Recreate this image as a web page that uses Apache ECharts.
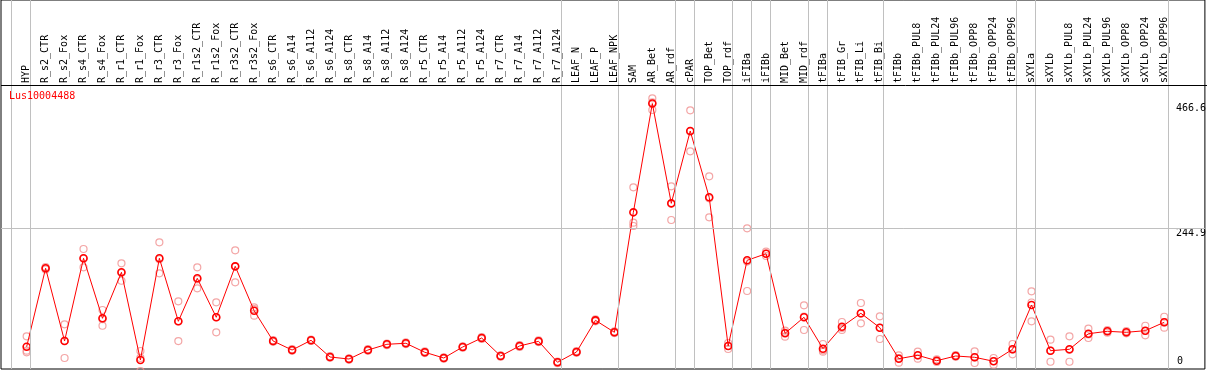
<!DOCTYPE html>
<html><head><meta charset="utf-8">
<script src="https://cdn.jsdelivr.net/npm/echarts@6/dist/echarts.min.js"></script>
<style>html,body{margin:0;padding:0;background:#fff}#c{width:1209px;height:370px}</style>
</head><body><div id="c"></div>
<script>
const geneName = 'Lus10004488';
const categories = ['HYP','R_s2_CTR','R_s2_Fox','R_s4_CTR','R_s4_Fox','R_r1_CTR','R_r1_Fox','R_r3_CTR','R_r3_Fox','R_r1s2_CTR','R_r1s2_Fox','R_r3s2_CTR','R_r3s2_Fox','R_s6_CTR','R_s6_A14','R_s6_A112','R_s6_A124','R_s8_CTR','R_s8_A14','R_s8_A112','R_s8_A124','R_r5_CTR','R_r5_A14','R_r5_A112','R_r5_A124','R_r7_CTR','R_r7_A14','R_r7_A112','R_r7_A124','LEAF_N','LEAF_P','LEAF_NPK','SAM','AR_Bet','AR_rdf','cPAR','TOP_Bet','TOP_rdf','iFIBa','iFIBb','MID_Bet','MID_rdf','tFIBa','tFIB_Gr','tFIB_Li','tFIB_Bi','tFIBb','tFIBb_PUL8','tFIBb_PUL24','tFIBb_PUL96','tFIBb_OPP8','tFIBb_OPP24','tFIBb_OPP96','sXYLa','sXYLb','sXYLb_PUL8','sXYLb_PUL24','sXYLb_PUL96','sXYLb_OPP8','sXYLb_OPP24','sXYLb_OPP96'];
const means = [34.3,173.7,44.4,191.5,84.8,166.6,10.7,191.5,79.5,155.9,86.6,177.2,98.3,44.4,28.4,45.7,16.0,12.4,28.4,38.6,40.4,24.4,14.2,33.8,49.8,17.8,35.6,43.9,6.6,24.9,81.2,59.9,273.2,466.6,289.2,417.8,299.9,35.6,187.9,199.6,58.1,86.6,30.8,69.9,93.7,68.1,13.0,19.0,9.4,17.8,15.5,8.4,29.7,108.4,27.2,29.7,57.4,61.7,59.9,62.8,77.7];
const rep1 = [52.8,176,74.1,208,99.6,182.6,26.7,219.9,115,175.5,113.2,205.7,104.4,46,30,47,17.5,13.5,30,40,42,26,15.5,35,51.5,19,37,45.5,8,26.5,83,61.5,317.7,475.9,319.5,454.6,337.2,40.9,244.8,203.2,62.8,107.9,39.1,78.2,112,88.4,19,25.4,11.9,19.6,26.1,14.2,39.1,132.8,46.8,52.8,66.3,64,62.2,71.6,87.6];
const rep2 = [27.2,173.3,14.2,175.5,71.6,151.6,-8.9,164.8,44.4,138.1,59.9,148.8,89.4,43,27,44.5,14.5,11,27,37,39,23,13,32.5,48,16.5,34,42.5,5,23.5,79.5,58.5,254.8,455.1,259.6,381.7,264.4,35.6,133.3,195.6,52.1,64,25.4,64,75.9,48,5.9,13,7.1,16.5,5.3,2.3,20.8,79.5,7.6,7.6,49.8,59.2,58.1,54.6,68.1];
const rep3 = [24.4,171.6,44.9,191,83.2,165.6,14.3,189.8,79.1,154.1,86.7,177.1,101.1,44.2,28.2,45.6,16,12.7,28.2,38.8,40.2,24.2,14.1,33.9,49.9,17.9,35.8,43.7,6.8,24.7,81.1,59.7,248.9,468.8,288.5,417.1,298.1,30.2,185.6,200,59.4,87.9,27.9,67.5,93.2,67.9,14.1,18.6,9.2,17.3,15.1,8.7,29.2,112.9,27.2,28.7,56.1,61.9,59.4,62.2,77.4];
const yTickValues = [0, 244.9, 466.6];
const gridLineValue = 244.9;
const separatorsAfter = [-1,0,28,31,34,35,37,38,39,41,42,45,52,53,60];

const FONT = 'DejaVu Sans Mono';
const XMIN = -1.353, XMAX = 62.144;
const YMIN = -5.333, YMAX = 650.67;

const meanData = means.map((v, i) => [i, v]);
const repData = [];
[rep1, rep2, rep3].forEach(arr => arr.forEach((v, i) => repData.push([i, v])));

const chart = echarts.init(document.getElementById('c'), null, {renderer: 'canvas'});
const yAxisBase = {
  type: 'value', min: YMIN, max: YMAX, position: 'right',
  axisLine: {show: false}, axisTick: {show: false}, splitLine: {show: false}
};
chart.setOption({
  animation: false,
  backgroundColor: '#fff',
  title: {
    text: geneName, left: 9, top: 91, padding: 0,
    textStyle: {color: '#ff0000', fontSize: 10, fontFamily: FONT, fontWeight: 'normal'}
  },
  grid: {left: 1, right: 2, top: 0, bottom: 1, show: true, borderColor: '#000', borderWidth: 1, backgroundColor: 'transparent'},
  xAxis: [{
    type: 'value', min: XMIN, max: XMAX, position: 'top', offset: -85,
    axisLine: {show: false}, axisTick: {show: false}, splitLine: {show: false},
    axisLabel: {
      customValues: categories.map((_, i) => i),
      rotate: 90, margin: 2, color: '#000', fontSize: 10, fontFamily: FONT,
      formatter: v => categories[Math.round(v)] || ''
    }
  }],
  yAxis: [
    Object.assign({}, yAxisBase, {
      axisLabel: {inside: true, align: 'left', margin: 29, verticalAlign: 'top', color: '#000', fontSize: 10, fontFamily: FONT,
        customValues: yTickValues.filter(v => v > 0), formatter: v => String(v)}
    }),
    Object.assign({}, yAxisBase, {
      axisLabel: {inside: true, align: 'left', margin: 28, verticalAlign: 'bottom', color: '#000', fontSize: 10, fontFamily: FONT,
        customValues: yTickValues.filter(v => v === 0), formatter: v => String(v)}
    })
  ],
  graphic: [{
    type: 'line', shape: {x1: 1, y1: 85.5, x2: 1207, y2: 85.5},
    style: {stroke: '#000', lineWidth: 1}, z: 10
  }],
  series: [
    {
      type: 'scatter', name: 'replicates', data: repData, clip: false, z: 2,
      symbol: 'circle', symbolSize: 7,
      itemStyle: {color: 'rgba(0,0,0,0)', borderColor: '#f09090', borderWidth: 1.2},
      markLine: {
        silent: true, symbol: 'none', animation: false,
        lineStyle: {color: '#c0c0c0', type: 'solid', width: 1},
        label: {show: false},
        data: separatorsAfter.map(i => ({xAxis: i + 0.2})).concat([{yAxis: gridLineValue}])
      }
    },
    {
      type: 'line', name: 'mean', data: meanData, z: 3,
      symbol: 'circle', symbolSize: 7, showAllSymbol: true,
      lineStyle: {color: '#ff0000', width: 1},
      itemStyle: {color: 'rgba(0,0,0,0)', borderColor: '#ff0000', borderWidth: 1.6}
    }
  ]
});
</script></body></html>
